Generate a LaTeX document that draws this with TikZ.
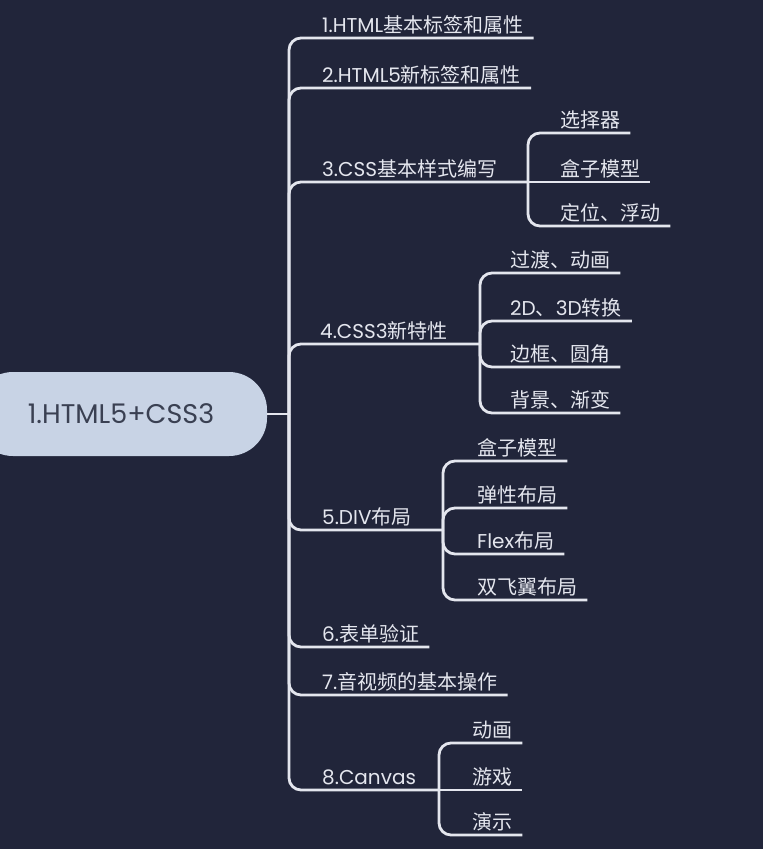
\documentclass[tikz,border=0pt]{standalone}
\usepackage{fontspec}
\setmainfont{Poppins}
\newfontfamily\cjk{Noto Sans CJK SC}
\usetikzlibrary{calc}
\definecolor{bg}{HTML}{21253A}
\definecolor{rootfill}{HTML}{C8D3E5}
\definecolor{roottext}{HTML}{3A4052}
\definecolor{ln}{HTML}{E4E6EE}
\begin{document}
\begin{tikzpicture}[x=1pt,y=1pt,
  lbl/.style={anchor=base west, inner sep=0pt, text=ln, font=\fontsize{20}{22}\selectfont},
  br/.style={draw=ln, line width=2.8pt, rounded corners=12pt},
  rootbox/.style={fill=rootfill, rounded corners=38pt, minimum width=292pt, minimum height=84pt, text=roottext, font=\fontsize{27}{30}\selectfont, inner sep=0pt}]
\clip (0,0) rectangle (763,-849);
\fill[bg] (0,0) rectangle (763,-849);

\node[rootbox] (root) at (121,-414) {1.HTML5+CSS3};
\coordinate (t) at (289,-414);
\draw[br] (root.east) -- (t);

% level 1
\node[lbl] (n1) at (322,-32) {1.HTML{\cjk 基本标签和属性}};
\node[lbl] (n2) at (322,-82) {2.HTML5{\cjk 新标签和属性}};
\node[lbl] (n3) at (322,-176) {3.CSS{\cjk 基本样式编写}};
\node[lbl] (n4) at (320,-338) {4.CSS3{\cjk 新特性}};
\node[lbl] (n5) at (322,-524) {5.DIV{\cjk 布局}};
\node[lbl] (n6) at (322,-641) {6.{\cjk 表单验证}};
\node[lbl] (n7) at (322,-689) {7.{\cjk 音视频的基本操作}};
\node[lbl] (n8) at (322,-784) {8.Canvas};

\coordinate (j3) at (528,-182);
\coordinate (j4) at (480,-344);
\coordinate (j5) at (443,-530);
\coordinate (j8) at (439,-790);

\draw[br] (t) -- (289,-38) -- ($(n1.base east)+(10pt,-6pt)$);
\draw[br] (t) -- (289,-88) -- ($(n2.base east)+(10pt,-6pt)$);
\draw[br] (t) -- (289,-182) -- (j3);
\draw[br] (t) -- (289,-344) -- (j4);
\draw[br] (t) -- (289,-530) -- (j5);
\draw[br] (t) -- (289,-647) -- ($(n6.base east)+(10pt,-6pt)$);
\draw[br] (t) -- (289,-695) -- ($(n7.base east)+(10pt,-6pt)$);
\draw[br] (t) -- (289,-790) -- (j8);

% level 2 under 3
\node[lbl] (c31) at (560,-127) {\cjk 选择器};
\node[lbl] (c32) at (560,-176) {\cjk 盒子模型};
\node[lbl] (c33) at (560,-220) {\cjk 定位、浮动};
\draw[br] (j3) -- (528,-133) -- ($(c31.base east)+(10pt,-6pt)$);
\draw[br] (j3) -- ($(c32.base east)+(10pt,-6pt)$);
\draw[br] (j3) -- (528,-226) -- ($(c33.base east)+(10pt,-6pt)$);

% level 2 under 4
\node[lbl] (c41) at (510,-267) {\cjk 过渡、动画};
\node[lbl] (c42) at (510,-315) {2D{\cjk 、}3D{\cjk 转换}};
\node[lbl] (c43) at (510,-361) {\cjk 边框、圆角};
\node[lbl] (c44) at (510,-407) {\cjk 背景、渐变};
\draw[br] (j4) -- (480,-273) -- ($(c41.base east)+(10pt,-6pt)$);
\draw[br] (j4) -- (480,-321) -- ($(c42.base east)+(10pt,-6pt)$);
\draw[br] (j4) -- (480,-367) -- ($(c43.base east)+(10pt,-6pt)$);
\draw[br] (j4) -- (480,-413) -- ($(c44.base east)+(10pt,-6pt)$);

% level 2 under 5
\node[lbl] (c51) at (477,-455) {\cjk 盒子模型};
\node[lbl] (c52) at (477,-502) {\cjk 弹性布局};
\node[lbl] (c53) at (477,-548) {Flex{\cjk 布局}};
\node[lbl] (c54) at (477,-594) {\cjk 双飞翼布局};
\draw[br] (j5) -- (443,-461) -- ($(c51.base east)+(10pt,-6pt)$);
\draw[br] (j5) -- (443,-508) -- ($(c52.base east)+(10pt,-6pt)$);
\draw[br] (j5) -- (443,-554) -- ($(c53.base east)+(10pt,-6pt)$);
\draw[br] (j5) -- (443,-600) -- ($(c54.base east)+(10pt,-6pt)$);

% level 2 under 8
\node[lbl] (c81) at (472,-737) {\cjk 动画};
\node[lbl] (c82) at (472,-784) {\cjk 游戏};
\node[lbl] (c83) at (472,-829) {\cjk 演示};
\draw[br] (j8) -- (439,-743) -- ($(c81.base east)+(10pt,-6pt)$);
\draw[br] (j8) -- ($(c82.base east)+(10pt,-6pt)$);
\draw[br] (j8) -- (439,-835) -- ($(c83.base east)+(10pt,-6pt)$);
\end{tikzpicture}
\end{document}
